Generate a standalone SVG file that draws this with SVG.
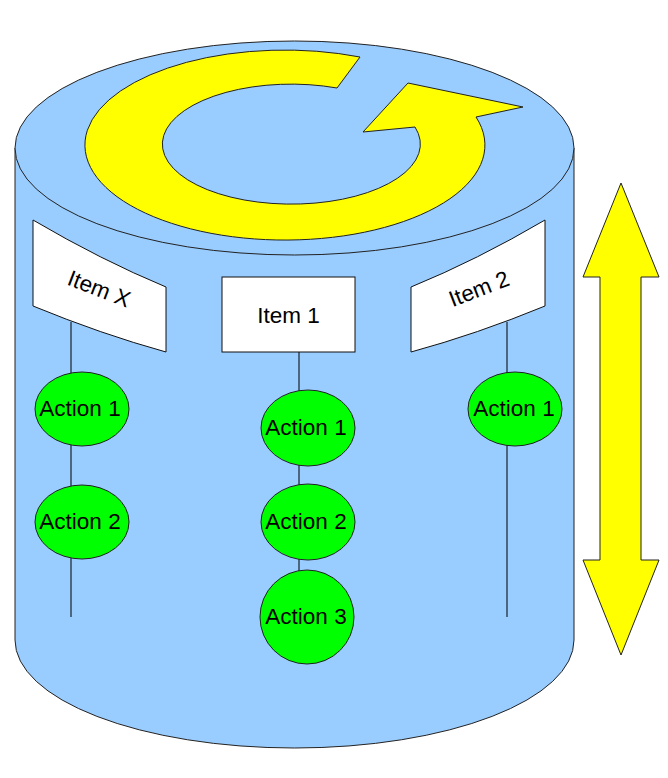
<svg xmlns="http://www.w3.org/2000/svg" width="668" height="778" viewBox="0 0 668 778">
<style>
.cyl{fill:#99ccff;stroke:#222;stroke-width:1}
.yel{fill:#ffff00;stroke:#222;stroke-width:1}
.box{fill:#fff;stroke:#111;stroke-width:1}
.act{fill:#00ff00;stroke:#222;stroke-width:1}
.lbl{font-family:"Liberation Sans",Arial,sans-serif;font-size:22.5px;fill:#000;text-anchor:middle;dominant-baseline:central}
.conn line{stroke:#000;stroke-width:1}
</style>
<rect width="668" height="778" fill="#fff"/>
<g id="cylinder">
<path class="cyl" d="M15,148 V640 A279.5,108 0 0 0 574,640 V148 Z"/>
<ellipse class="cyl" cx="294.5" cy="148" rx="279.5" ry="107"/>
</g>
<g id="rotation-arrow">
<path class="yel" d="M476,117 A200,95 0 1 1 360,57 L337,88 A129,60 0 1 0 415,127 L363,132 L408,83 L523,107 Z"/>
</g>
<g class="conn" id="connectors">
<line x1="71" y1="322" x2="71" y2="617"/>
<line x1="299" y1="352" x2="299" y2="590"/>
<line x1="507" y1="322" x2="507" y2="617"/>
</g>
<g id="item-x">
<path class="box" d="M33,220 Q101,260 166,287 V352 Q101,334 33,306 Z"/>
<text class="lbl" transform="translate(99,289) rotate(21)">Item X</text>
</g>
<g id="item-1">
<rect class="box" x="222" y="277" width="133" height="75"/>
<text class="lbl" x="288.5" y="315">Item 1</text>
</g>
<g id="item-2">
<path class="box" d="M545,220 Q477,260 411,287 V352 Q477,334 545,306 Z"/>
<text class="lbl" transform="translate(479,289) rotate(-21)">Item 2</text>
</g>
<g id="x-action-1"><ellipse class="act" cx="82" cy="409" rx="47" ry="37"/><text class="lbl" x="80" y="408">Action 1</text></g>
<g id="x-action-2"><ellipse class="act" cx="82" cy="522" rx="47" ry="37"/><text class="lbl" x="80" y="521">Action 2</text></g>
<g id="i1-action-1"><ellipse class="act" cx="308" cy="428" rx="47" ry="38"/><text class="lbl" x="306" y="427">Action 1</text></g>
<g id="i1-action-2"><ellipse class="act" cx="308" cy="522" rx="47" ry="38"/><text class="lbl" x="306" y="521">Action 2</text></g>
<g id="i1-action-3"><ellipse class="act" cx="307" cy="617" rx="47" ry="47"/><text class="lbl" x="306" y="616">Action 3</text></g>
<g id="i2-action-1"><ellipse class="act" cx="515" cy="409" rx="47" ry="37"/><text class="lbl" x="514" y="408">Action 1</text></g>
<g id="vertical-arrow">
<path class="yel" d="M621,183 L659,277 H641 V560 H659 L621,655 L583,560 H600 V277 H583 Z"/>
</g>
</svg>
